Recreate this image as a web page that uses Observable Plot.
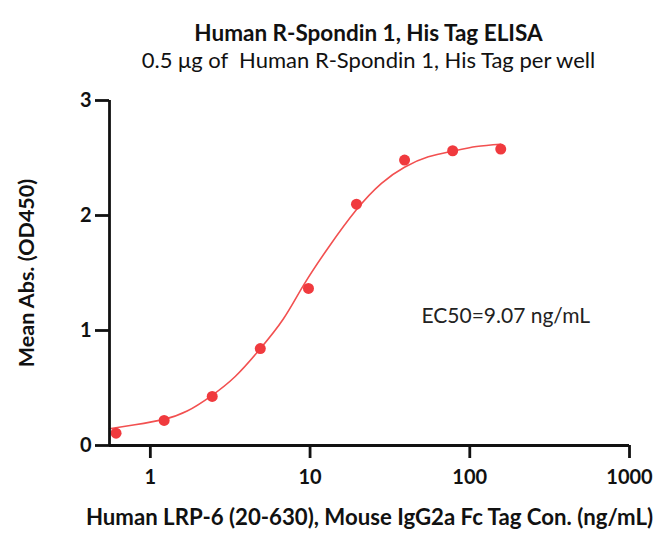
<!DOCTYPE html>
<html>
<head>
<meta charset="utf-8">
<script src="https://cdn.jsdelivr.net/npm/d3@7"></script>
<script src="https://cdn.jsdelivr.net/npm/@observablehq/plot@0.6"></script>
<style>
  body { margin: 0; background: #fff; font-family: Lato, "Open Sans", sans-serif; }
  #wrap { width: 656px; height: 537px; position: relative; }
  .title { position: absolute; left: 108px; width: 521px; text-align: center; color: #111; white-space: nowrap; line-height: 1.05; }
  #t1 { top: 21px; font-weight: 700; font-size: 22.5px; }
  #t2 { top: 48px; font-weight: 400; font-size: 22px; }
  #chart { position: absolute; left: 0; top: 75px; }
</style>
</head>
<body>
<div id="wrap">
  <div class="title" id="t1">Human R-Spondin 1, His Tag ELISA</div>
  <div class="title" id="t2">0.5 μg of&nbsp; Human R-Spondin 1, His Tag per well</div>
  <div id="chart"></div>
</div>
<script>
// Measured points (concentration ng/mL, mean OD450)
const concentrations = [0.61, 1.22, 2.44, 4.88, 9.77, 19.53, 39.06, 78.13, 156.25];
const meanAbs = [0.107, 0.218, 0.427, 0.843, 1.366, 2.098, 2.482, 2.563, 2.578];

// Fitted curve
const curveX = [0.555, 0.8, 1.2, 1.7, 2.4, 3.4, 4.8, 6.8, 9.07, 13, 19.5, 28, 39, 55, 78, 110, 156];
const curveY = [0.145, 0.18, 0.225, 0.30, 0.43, 0.60, 0.83, 1.10, 1.39, 1.72, 2.05, 2.28, 2.42, 2.51, 2.56, 2.60, 2.62];

const xTicks = [1, 10, 100, 1000];
const yTicks = [0, 1, 2, 3];
const xDomain = [0.555, 1000];
const yDomain = [0, 3];

const annotation = [{x: 168, y: 1.12, label: "EC50=9.07 ng/mL"}];
const xLabel = "Human LRP-6 (20-630), Mouse IgG2a Fc Tag Con. (ng/mL)";
const yLabel = "Mean Abs. (OD450)";

const points = concentrations.map((c, i) => ({x: c, y: meanAbs[i]}));
const curve = curveX.map((c, i) => ({x: c, y: curveY[i]}));

const chart = Plot.plot({
  width: 656,
  height: 462,
  marginLeft: 109,
  marginRight: 27,
  marginTop: 25,
  marginBottom: 92,
  style: { fontFamily: "Lato, sans-serif", color: "#111", background: "white", overflow: "visible" },
  x: { type: "log", domain: xDomain, range: [109, 629] },
  y: { domain: yDomain },
  marks: [
    Plot.line(curve, { x: "x", y: "y", stroke: "#f25050", strokeWidth: 1.6, curve: "natural" }),
    Plot.dot(points, { x: "x", y: "y", r: 5.5, fill: "#f03a3e", stroke: "none" }),
    Plot.text(annotation, { x: "x", y: "y", text: "label", fontSize: 21, fill: "#222" }),
    Plot.axisX({ ticks: xTicks, tickFormat: d => String(d), tickSize: 13, tickPadding: 11, strokeWidth: 2.8, stroke: "#111", fontSize: 20, fontWeight: "bold", label: null }),
    Plot.axisY({ ticks: yTicks, tickFormat: d => String(d), tickSize: 14, tickPadding: 4, strokeWidth: 2.8, stroke: "#111", fontSize: 20, fontWeight: "bold", label: null }),
    Plot.ruleY([0], { stroke: "#111", strokeWidth: 2.8 }),
    Plot.ruleX([xDomain[0]], { y1: yDomain[0], y2: yDomain[1], stroke: "#111", strokeWidth: 2.8 }),
    Plot.text([xLabel], { frameAnchor: "bottom", dy: 79, fontSize: 22.2, fontWeight: "bold", fill: "#111" }),
    Plot.text([yLabel], { frameAnchor: "left", dx: -82, rotate: -90, textAnchor: "middle", fontSize: 21.5, fontWeight: "bold", fill: "#111" })
  ]
});
document.getElementById("chart").appendChild(chart);
</script>
</body>
</html>
